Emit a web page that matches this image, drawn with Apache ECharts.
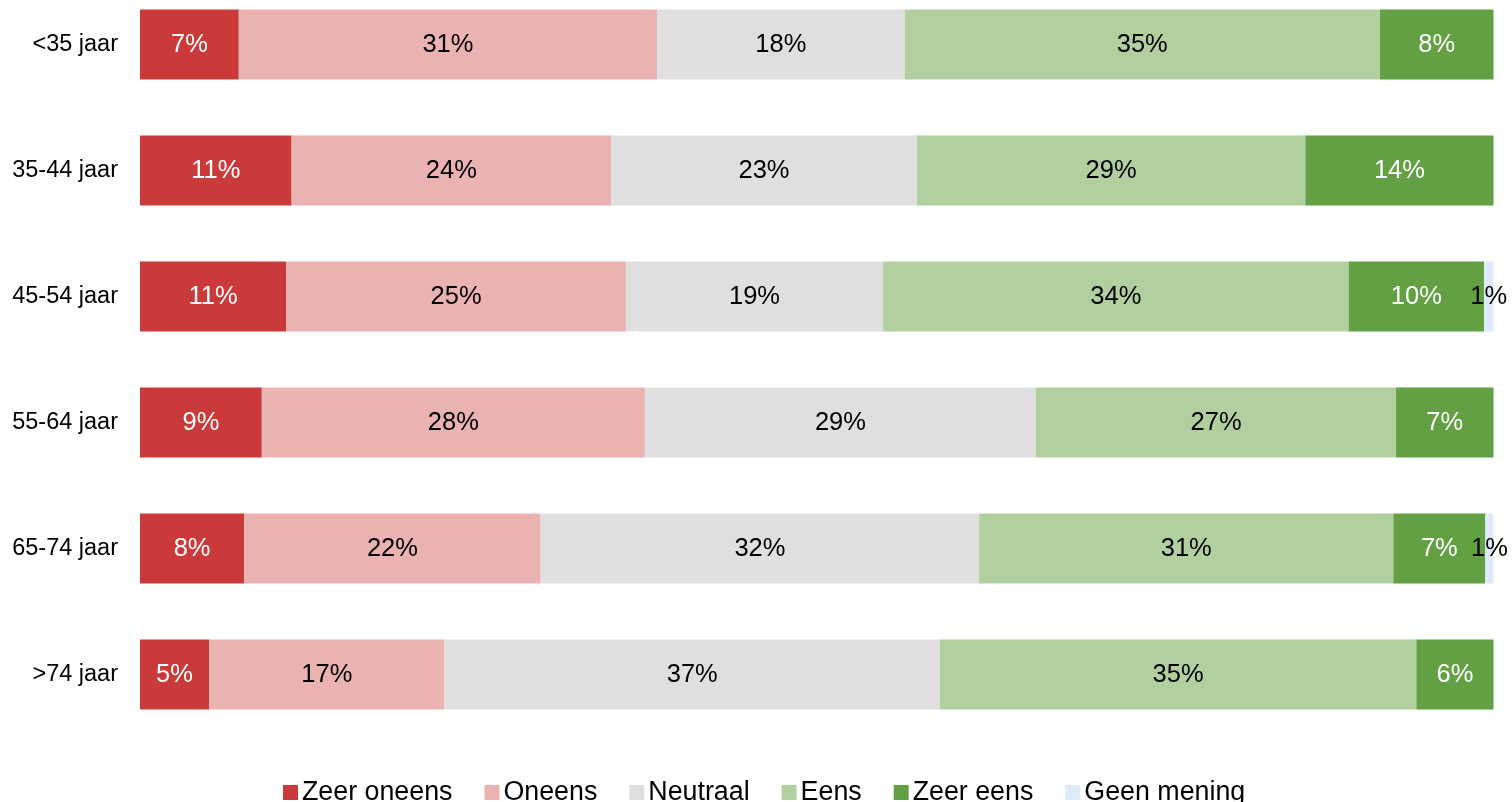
<!DOCTYPE html>
<html>
<head>
<meta charset="utf-8">
<script src="https://cdn.jsdelivr.net/npm/echarts@6/dist/echarts.min.js"></script>
<style>
  html, body { margin: 0; padding: 0; background: #fff; }
  #chart { width: 1512px; height: 802px; }
</style>
</head>
<body>
<div id="chart"></div>
<script>
const categories = ['<35 jaar', '35-44 jaar', '45-54 jaar', '55-64 jaar', '65-74 jaar', '>74 jaar'];
const seriesNames = ['Zeer oneens', 'Oneens', 'Neutraal', 'Eens', 'Zeer eens', 'Geen mening'];
const zeerOneens = [7.3, 11.2, 10.8, 9.0, 7.7, 5.1];
const oneens     = [30.9, 23.6, 25.1, 28.3, 21.9, 17.4];
const neutraal   = [18.3, 22.6, 19.0, 28.9, 32.4, 36.6];
const eens       = [35.1, 28.7, 34.4, 26.6, 30.6, 35.2];
const zeerEens   = [8.4, 13.9, 10.0, 7.2, 6.8, 5.7];
const geenMening = [0, 0, 0.7, 0, 0.6, 0];

const colors = ['#CB3A3A', '#EAB2B1', '#DEDFDE', '#B2CFA0', '#63A043', '#DDEBFB'];
const labelColors = ['#fff', '#000', '#000', '#000', '#fff', '#000'];
const allData = [zeerOneens, oneens, neutraal, eens, zeerEens, geenMening];
const FONT = '"Liberation Sans", Arial, sans-serif';

const chart = echarts.init(document.getElementById('chart'));
chart.setOption({
  animation: false,
  textStyle: { fontFamily: FONT },
  grid: { left: 140, right: 18.5, top: 44.5, bottom: 127.5, containLabel: false },
  xAxis: { type: 'value', min: 0, max: 100, show: false },
  yAxis: {
    type: 'category', data: categories, inverse: true, boundaryGap: false,
    axisLine: { show: false }, axisTick: { show: false }, splitLine: { show: false },
    axisLabel: { fontSize: 23.5, color: '#000', margin: 22, fontFamily: FONT }
  },
  legend: {
    data: seriesNames, left: 278, top: 774,
    itemWidth: 15, itemHeight: 15, itemGap: 32,
    icon: 'rect',
    textStyle: { fontSize: 26.8, color: '#000', fontFamily: FONT, padding: [0, 0, 0, -1] }
  },
  series: seriesNames.map((name, i) => ({
    name, type: 'bar', stack: 'total', barWidth: 70,
    itemStyle: { color: colors[i] },
    label: {
      show: true, position: 'inside', color: labelColors[i],
      fontSize: 25.5, fontFamily: FONT,
      formatter: p => p.value > 0 ? Math.round(p.value) + '%' : ''
    },
    data: allData[i]
  }))
});
</script>
</body>
</html>
